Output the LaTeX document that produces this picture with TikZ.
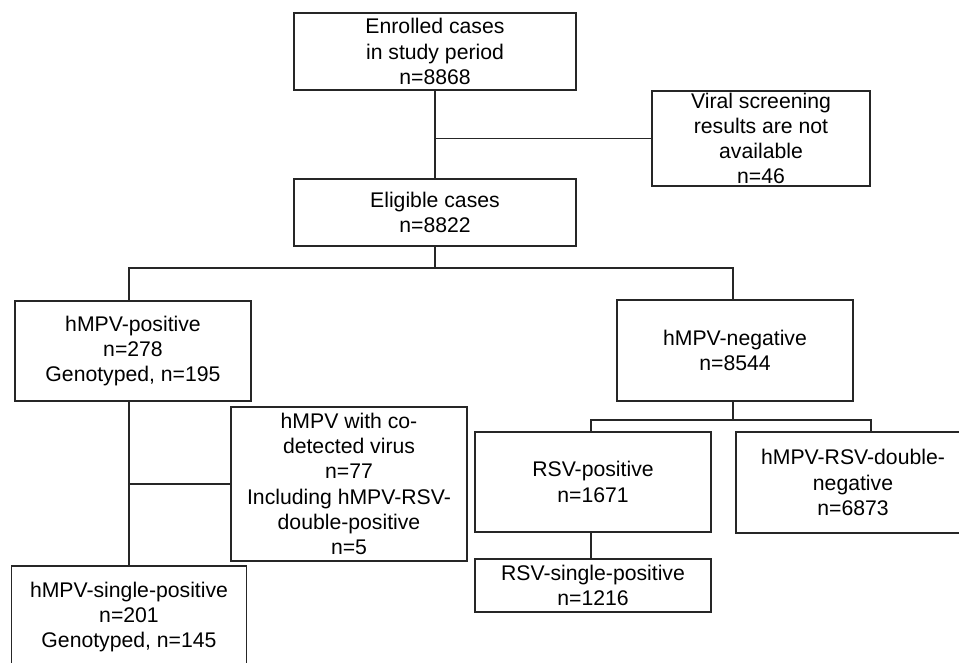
\documentclass[tikz,border=0pt]{standalone}
\usepackage{fontspec}
\setmainfont{Liberation Sans}
\begin{document}
\begin{tikzpicture}[x=1pt,y=-1pt,
  box/.style={draw=black!85, line width=1.3pt, inner sep=0pt, align=center,
    font=\fontsize{21.2}{25.2}\selectfont},
  link/.style={draw=black!85, line width=1.3pt}]
\useasboundingbox (0,0) rectangle (959,663);
\clip (0,0) rectangle (959,663);
\node[box, minimum width=282, minimum height=77] (enr) at (435,51.5) {Enrolled cases\\in study period\\n=8868};
\node[box, minimum width=218, minimum height=95] (vir) at (761,138.5) {Viral screening\\results are not\\available\\n=46};
\node[box, minimum width=282, minimum height=67] (eli) at (435,212.5) {Eligible cases\\n=8822};
\node[box, minimum width=236, minimum height=100] (pos) at (133,351) {hMPV-positive\\n=278\\Genotyped, n=195};
\node[box, minimum width=236, minimum height=101] (neg) at (735,350.5) {hMPV-negative\\n=8544};
\node[box, minimum width=236, minimum height=154] (cod) at (349,484) {hMPV with co-\\detected virus\\n=77\\Including hMPV-RSV-\\double-positive\\n=5};
\node[box, minimum width=235, minimum height=102] (sgl) at (129,617) {hMPV-single-positive\\n=201\\Genotyped, n=145};
\node[box, minimum width=236, minimum height=100] (rsv) at (593,482) {RSV-positive\\n=1671};
\node[box, minimum width=234, minimum height=101] (dneg) at (853,482.5) {hMPV-RSV-double-\\negative\\n=6873};
\node[box, minimum width=236, minimum height=53] (rss) at (593,585.5) {RSV-single-positive\\n=1216};
% connectors
\draw[link] (enr.south) -- (eli.north);
\draw[link] (vir.west) -- (vir.west -| enr.south);
\coordinate (j2) at (435,268);
\coordinate (jpos) at (129,268);
\coordinate (jneg) at (733,268);
\draw[link] (eli.south) -- (j2);
\draw[link] (jpos |- pos.north) -- (jpos) -- (jneg) -- (jneg |- neg.north);
\draw[link] (sgl.north) -- (sgl.north |- pos.south);
\draw[link] (cod.west) -- (cod.west -| sgl.north);
\coordinate (j3) at (733,420);
\coordinate (jrsv) at (591,420);
\coordinate (jdn) at (871,420);
\draw[link] (j3 |- neg.south) -- (j3);
\draw[link] (jrsv |- rsv.north) -- (jrsv) -- (jdn) -- (jdn |- dneg.north);
\draw[link] (jrsv |- rsv.south) -- (jrsv |- rss.north);
\end{tikzpicture}
\end{document}
